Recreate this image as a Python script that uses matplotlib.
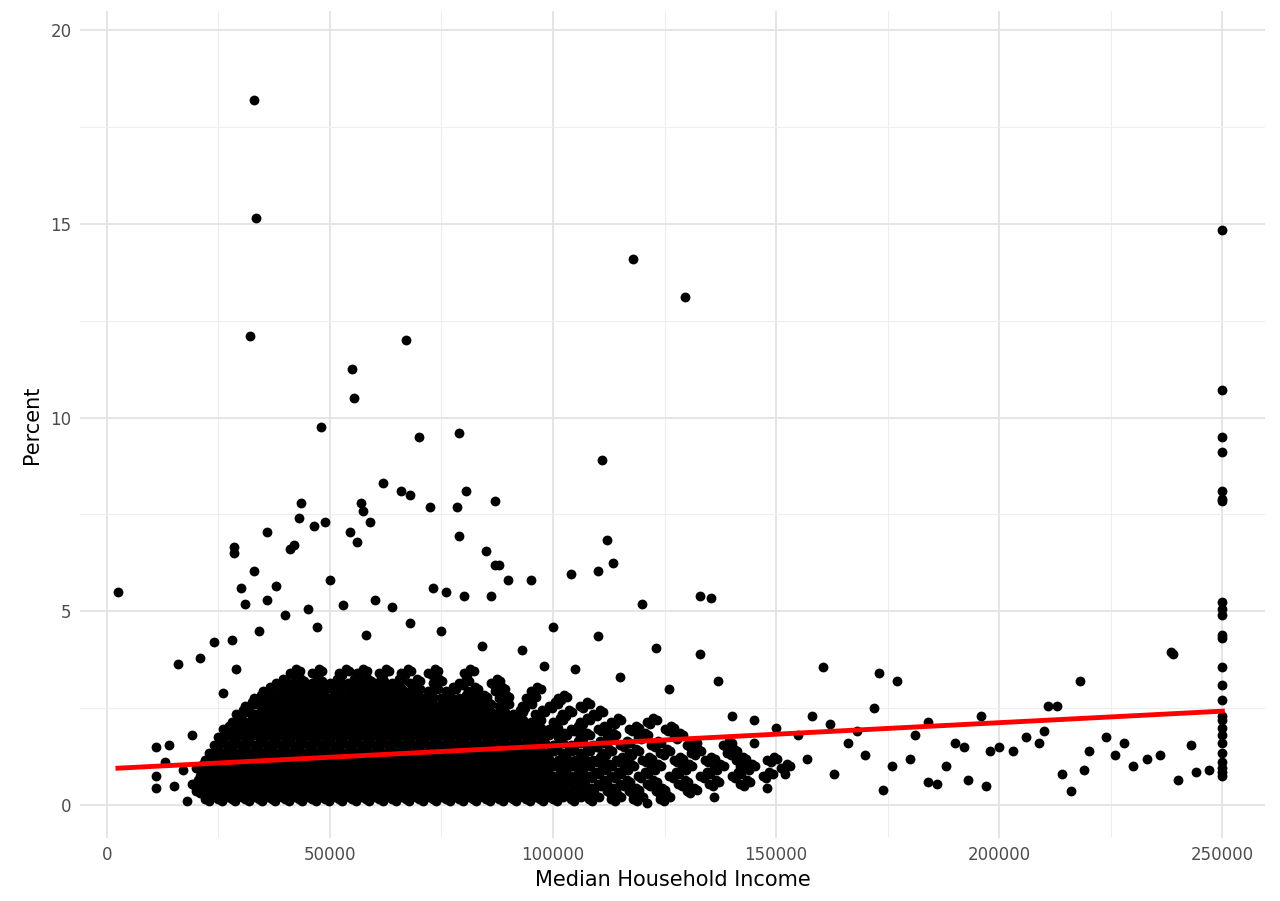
import matplotlib
matplotlib.use("Agg")
import matplotlib.pyplot as plt
import numpy as np

# sparse / outlier points: (income in thousands, percent)
outliers = [(2.5,5.5),(33,18.2),(33.5,15.15),(32,12.1),(55,11.25),(55.5,10.5),(67,12),(48,9.75),(70,9.5),(79,9.6),
(118,14.1),(129.5,13.1),(111,8.9),(250,14.85),(250,10.7),(250,9.5),(250,9.1),(250,8.1),(250,7.9),(250,7.85),
(62,8.3),(66,8.1),(68,8),(80.5,8.1),(87,7.85),(78.5,7.7),(72.5,7.7),(43.5,7.8),(43,7.4),(46.5,7.2),(49,7.3),
(57,7.8),(57.5,7.6),(59,7.3),(36,7.05),(79,6.95),(112,6.85),(28.5,6.65),(28.5,6.5),(33,6.05),(41,6.6),(42,6.7),
(54.5,7.05),(56,6.8),(85,6.55),(110,6.05),(113.5,6.25),(95,5.8),(104,5.95),(87,6.2),(88,6.2),(120,5.2),(133,5.4),
(135.5,5.35),(250,5.25),(250,5.05),(250,4.9),(250,4.4),(250,4.3),(250,3.55),(250,3.1),(250,2.7),(250,2.3),
(250,2.2),(250,2.0),(250,1.8),(250,1.6),(250,1.35),(250,1.1),(250,0.95),(250,0.85),(250,0.75),(238.5,3.95),
(239,3.9),(160.5,3.55),(173,3.4),(177,3.2),(16,3.65),(21,3.8),(24,4.2),(28,4.25),(30,5.6),(31,5.2),(36,5.3),
(38,5.65),(45,5.05),(50,5.8),(53,5.15),(60,5.3),(64,5.1),(73,5.6),(76,5.5),(80,5.4),(86,5.4),(90,5.8),(100,4.6),
(110,4.35),(123,4.05),(133,3.9),(137,3.2),(172,2.5),(184,2.15),(190,1.6),(196,2.3),(206,1.75),(211,2.55),
(213,2.55),(218,3.2),(224,1.75),(228,1.6),(233,1.2),(236,1.3),(240,0.65),(243,1.55),(244,0.85),(247,0.9),
(216,0.35),(174,0.4),(186,0.55),(184,0.6),(197,0.5),(193,0.65),(163,0.8),(148,0.45),(136,0.2),(121,0.05),
(18,0.1),(11,0.75),(11,0.45),(11,1.5),(14,1.55),(13,1.1),(15,0.5),(17,0.9),(19,1.8),(23,1.2),(26,2.9),(29,3.5),
(34,4.5),(40,4.9),(47,4.6),(58,4.4),(68,4.7),(75,4.5),(84,4.1),(93,4.0),(98,3.6),(105,3.5),(115,3.3),(126,3.0),
(140,2.3),(145,2.2),(150,2.0),(155,1.8),(158,2.3),(162,2.1),(166,1.6),(170,1.3),(176,1.0),(180,1.2),(188,1.0),
(200,1.5),(203,1.4),(209,1.6),(214,0.8),(220,1.4),(230,1.0),(152,0.8),(145,1.6),(142,1.0),(157,1.2),(168,1.9),
(181,1.8),(192,1.5),(198,1.4),(210,1.9),(219,0.9),(226,1.3)]

# dense core, one row of incomes (thousands) per percent level
core_levels = [0.15,0.35,0.55,0.75,0.95,1.15,1.35,1.55,1.75,1.95,2.15,2.35,2.55,2.75,2.95,3.15,3.4]
core_x = [
"22 25 28 31 34 37 40 43 46 49 52 55 58 61 64 67 70 73 76 79 82 85 88 91 94 97 100 104 108 113 118 124",
"20 23 26 29 32 35 38 41 44 47 50 53 56 59 62 65 68 71 74 77 80 83 86 89 92 95 99 103 107 112 117 123 130",
"19 22 25 28 31 34 37 40 43 46 49 52 55 58 61 64 67 70 73 76 79 82 85 88 91 94 97 101 105 110 115 121 128 135 142",
"21 24 27 30 33 36 39 42 45 48 51 54 57 60 63 66 69 72 75 78 81 84 87 90 93 96 100 104 108 113 119 126 133 140 147",
"20 23 26 29 32 35 38 41 44 47 50 53 56 59 62 65 68 71 74 77 80 83 86 89 92 95 98 102 106 111 116 122 129 136 143 151",
"22 25 28 31 34 37 40 43 46 49 52 55 58 61 64 67 70 73 76 79 82 85 88 91 94 97 101 105 109 114 120 127 134 141 148",
"23 26 29 32 35 38 41 44 47 50 53 56 59 62 65 68 71 74 77 80 83 86 89 92 95 98 102 106 111 117 124 131 139",
"24 27 30 33 36 39 42 45 48 51 54 57 60 63 66 69 72 75 78 81 84 87 90 93 96 100 104 109 115 122 130 138",
"25 28 31 34 37 40 43 46 49 52 55 58 61 64 67 70 73 76 79 82 85 88 91 94 97 101 106 112 119 127",
"26 29 32 35 38 41 44 47 50 53 56 59 62 65 68 71 74 77 80 83 86 89 92 95 99 104 110 117 125",
"28 31 34 37 40 43 46 49 52 55 58 61 64 67 70 73 76 79 82 85 88 91 95 100 106 113 121",
"29 33 36 39 42 45 48 51 54 57 60 63 66 69 72 75 78 81 84 87 91 96 102 109",
"31 35 38 41 44 47 50 53 56 59 62 65 68 71 74 77 80 84 88 93 99 106",
"33 37 41 44 47 50 53 56 59 62 65 68 71 75 79 83 88 94 101",
"35 39 43 47 51 55 58 61 64 68 72 76 81 87 95",
"38 42 46 50 54 57 60 64 68 73 79 86",
"41 46 52 56 61 66 72 80",
]
# extra nearby copies of the core rows (income offset in thousands, percent offset)
core_offsets = [(0, 0), (1.5, 0.1), (0.8, -0.05), (2.2, 0.05)]

# linear fit (percent = a + b * income)
fit_a, fit_b = 0.935, 5.95e-6
fit_range = (2500, 250000)

xs = [p[0]*1000 for p in outliers]
ys = [p[1] for p in outliers]
for lvl, row in zip(core_levels, core_x):
    for v in row.split():
        for dx, dy in core_offsets:
            xs.append((float(v) + dx)*1000); ys.append(max(lvl + dy, 0.05))

fig = plt.figure(figsize=(12.8, 9.01), dpi=100)
ax = fig.add_axes([0.0625, 0.07, 0.926, 0.918])
ax.scatter(xs, ys, s=50, color="black", linewidths=0, zorder=2)
lx = np.array(fit_range)
ax.plot(lx, fit_a + fit_b*lx, color="red", lw=3.5, zorder=3)
ax.set_xlim(-6000, 259600)
ax.set_ylim(-0.85, 20.5)
ax.set_xticks([0, 50000, 100000, 150000, 200000, 250000])
ax.set_xticklabels(["0","50000","100000","150000","200000","250000"])
ax.set_yticks([0,5,10,15,20])
ax.set_xticks(np.arange(25000, 250000, 50000), minor=True)
ax.set_yticks([2.5,7.5,12.5,17.5], minor=True)
ax.grid(which="major", color="#e3e3e3", lw=1.3)
ax.grid(which="minor", color="#eeeeee", lw=0.8)
ax.set_axisbelow(True)
for s in ax.spines.values(): s.set_visible(False)
ax.tick_params(which="both", length=0, labelsize=12, colors="#4d4d4d", pad=6)
ax.set_xlabel("Median Household Income", fontsize=15, labelpad=4)
ax.set_ylabel("Percent", fontsize=15, labelpad=6)
fig.savefig("out.png", dpi=100, facecolor="white")
